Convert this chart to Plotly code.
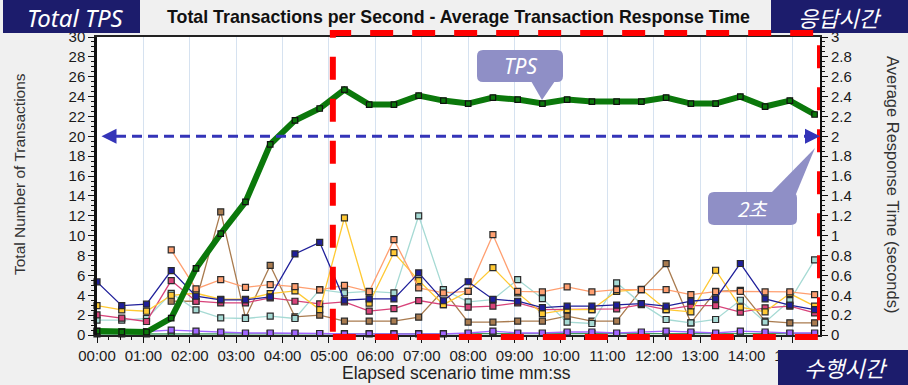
import plotly.graph_objects as go

# ---- data -------------------------------------------------------------
elapsed_s = [0, 32, 64, 96, 128, 160, 192, 224, 256, 288, 320, 352, 384, 416, 448,
             480, 512, 544, 576, 608, 640, 672, 704, 736, 768, 800, 832, 864, 896, 928]

tps = [0.4, 0.3, 0.3, 1.7, 6.7, 10.2, 13.4, 19.2, 21.6, 22.8, 24.7, 23.2, 23.2, 24.1, 23.6,
       23.3, 23.9, 23.7, 23.3, 23.7, 23.5, 23.5, 23.5, 23.9, 23.3, 23.3, 24.0, 23.0, 23.6, 22.2]

rt_navy = [0.535, 0.296, 0.31, 0.648, 0.39, 0.354, 0.354, 0.384, 0.816, 0.933, 0.35, 0.364, 0.364, 0.625, 0.345,
           0.536, 0.36, 0.34, 0.276, 0.29, 0.29, 0.30, 0.316, 0.29, 0.34, 0.364, 0.72, 0.364, 0.30, 0.256]
rt_salmon = [None, None, None, 0.856, 0.464, 0.558, 0.48, 0.508, 0.487, 0.454, 0.50, 0.437, 0.96, 0.474, 0.424,
             0.44, 1.01, 0.44, 0.434, 0.484, 0.434, 0.457, 0.457, 0.457, 0.407, 0.437, 0.44, 0.434, 0.434, 0.407]
rt_yellow = [0.296, 0.253, 0.239, 0.40, 0.42, 0.36, 0.36, 0.417, 0.444, 0.256, 1.18, 0.32, 0.83, 0.548, 0.306,
             0.44, 0.678, 0.424, 0.216, 0.256, 0.256, 0.44, 0.46, 0.256, 0.233, 0.652, 0.28, 0.233, 0.417, 0.29]
rt_pink = [0.203, 0.17, 0.136, 0.548, 0.34, 0.324, 0.324, 0.374, 0.34, 0.313, 0.333, 0.24, 0.266, 0.347, 0.306,
           0.28, 0.29, 0.323, 0.256, 0.256, 0.256, 0.263, 0.306, 0.256, 0.296, 0.296, 0.23, 0.273, 0.29, 0.223]
rt_cyan = [0.149, 0.149, 0.166, 0.42, 0.253, 0.173, 0.166, 0.19, 0.166, 0.457, 0.424, 0.44, 0.424, 1.2, 0.457,
           0.333, 0.357, 0.558, 0.367, 0.129, 0.116, 0.525, 0.316, 0.156, 0.123, 0.156, 0.35, 0.129, 0.347, 0.756]
rt_brown = [None, None, None, 0.34, 0.34, 1.24, 0.173, 0.70, 0.183, 0.20, 0.139, 0.139, 0.139, 0.179, 0.45,
            0.129, 0.129, 0.139, 0.139, 0.189, 0.139, 0.139, 0.457, 0.718, 0.123, 0.44, 0.45, 0.139, 0.123, 0.123]
rt_purple = [0.04, 0.035, 0.035, 0.05, 0.04, 0.03, 0.02, 0.02, 0.02, 0.015, 0.01, 0.01, 0.01, 0.01, 0.01,
             0.02, 0.04, 0.02, 0.02, 0.03, 0.03, 0.02, 0.03, 0.04, 0.03, 0.02, 0.04, 0.03, 0.02, 0.02]
rt_green = [0.01, 0.01, 0.01, 0.015, 0.015, 0.015, 0.015, 0.015, 0.015, 0.015, 0.015, 0.015, 0.015, 0.015, 0.015,
            0.015, 0.015, 0.015, 0.015, 0.015, 0.015, 0.015, 0.015, 0.015, 0.015, 0.015, 0.015, 0.015, 0.015, 0.015]

x_tick_vals = [0, 60, 120, 180, 240, 300, 360, 420, 480, 540, 600, 660, 720, 780, 840, 900]
x_tick_text = ["00:00", "01:00", "02:00", "03:00", "04:00", "05:00", "06:00", "07:00",
               "08:00", "09:00", "10:00", "11:00", "12:00", "13:00", "14:00", "15:00"]
rt_tick_vals = [0, 0.2, 0.4, 0.6, 0.8, 1, 1.2, 1.4, 1.6, 1.8, 2, 2.2, 2.4, 2.6, 2.8, 3]
rt_tick_text = ["0", "0.2", "0.4", "0.6", "0.8", "1", "1.2", "1.4", "1.6", "1.8",
                "2", "2.2", "2.4", "2.6", "2.8", "3"]

x_end = 935          # axis end, seconds
steady_start = 305   # start of the steady-state window, seconds
rt_target = 2.0      # response-time target, seconds

# ---- page geometry (pixels) --------------------------------------------
FW, FH = 908, 385
L, T, W, H = 97, 37, 723, 298


def fx(px):
    return (px - L) / W


def fy(py):
    return (T + H - py) / H


def rrect(x0, y0, x1, y1, r):
    pts = [("M", x0 + r, y0), ("L", x1 - r, y0), ("Q", x1, y0, x1, y0 + r),
           ("L", x1, y1 - r), ("Q", x1, y1, x1 - r, y1), ("L", x0 + r, y1),
           ("Q", x0, y1, x0, y1 - r), ("L", x0, y0 + r), ("Q", x0, y0, x0 + r, y0)]
    out = []
    for p in pts:
        cmd, vals = p[0], p[1:]
        coords = []
        for i in range(0, len(vals), 2):
            coords.append(f"{fx(vals[i]):.5f},{fy(vals[i + 1]):.5f}")
        out.append(cmd + " " + " ".join(coords))
    return " ".join(out) + " Z"


def poly(points):
    s = " L ".join(f"{fx(a):.5f},{fy(b):.5f}" for a, b in points)
    return "M " + s + " Z"


# ---- traces -----------------------------------------------------------
fig = go.Figure()

series = [
    ("rt_green", rt_green, "#3c9a5f"),
    ("rt_purple", rt_purple, "#a066ff"),
    ("rt_brown", rt_brown, "#a97b4f"),
    ("rt_cyan", rt_cyan, "#a6dad4"),
    ("rt_pink", rt_pink, "#d8437a"),
    ("rt_yellow", rt_yellow, "#ffc933"),
    ("rt_salmon", rt_salmon, "#ff9f70"),
    ("rt_navy", rt_navy, "#1f1f9a"),
]
for name, vals, col in series:
    fig.add_trace(go.Scatter(
        x=elapsed_s, y=vals, name=name, mode="lines+markers", yaxis="y",
        line=dict(color=col, width=1.3),
        marker=dict(symbol="square", size=6, color=col, line=dict(color="#2a2a2a", width=1.2)),
        cliponaxis=False, connectgaps=False,
    ))

fig.add_trace(go.Scatter(
    x=elapsed_s, y=tps, name="TPS", mode="lines+markers", yaxis="y2",
    line=dict(color="#0b780b", width=6),
    marker=dict(symbol="square", size=5.5, color="#0b780b", line=dict(color="#111", width=1.2)),
    cliponaxis=False,
))

# ---- shapes -------------------------------------------------------------
shapes = []
navy = "#1c1c6c"
lav = "#8f8fc6"

# header / footer label boxes
shapes.append(dict(type="rect", xref="paper", yref="paper", x0=fx(3), x1=fx(140), y0=fy(33), y1=fy(0),
                   fillcolor=navy, line=dict(width=0), layer="above"))
shapes.append(dict(type="rect", xref="paper", yref="paper", x0=fx(771), x1=fx(FW), y0=fy(33), y1=fy(0),
                   fillcolor=navy, line=dict(width=0), layer="above"))
shapes.append(dict(type="rect", xref="paper", yref="paper", x0=fx(778), x1=fx(FW), y0=fy(FH), y1=fy(350),
                   fillcolor=navy, line=dict(width=0), layer="above"))

# steady-state window
shapes.append(dict(type="rect", xref="x", yref="paper", x0=steady_start, x1=x_end,
                   y0=fy(337), y1=fy(33),
                   line=dict(color="#ff0000", width=6, dash="23px,19px"), layer="above"))

# response-time target with arrowheads
y_tgt = T + H * (1 - rt_target / 3.0)
shapes.append(dict(type="line", xref="paper", yref="y", x0=fx(116), x1=fx(806), y0=rt_target, y1=rt_target,
                   line=dict(color="#3434b8", width=3, dash="10px,6px"), layer="above"))
shapes.append(dict(type="path", xref="paper", yref="paper",
                   path=poly([(101.5, y_tgt), (116.5, y_tgt - 7.5), (116.5, y_tgt + 7.5)]),
                   fillcolor="#3434b8", line=dict(width=0), layer="above"))
shapes.append(dict(type="path", xref="paper", yref="paper",
                   path=poly([(820, y_tgt), (805, y_tgt - 7.5), (805, y_tgt + 7.5)]),
                   fillcolor="#3434b8", line=dict(width=0), layer="above"))

# callouts
shapes.append(dict(type="path", xref="paper", yref="paper", path=rrect(477, 50, 563, 82, 6),
                   fillcolor=lav, line=dict(width=0), layer="above"))
shapes.append(dict(type="path", xref="paper", yref="paper",
                   path=poly([(531, 81), (555, 81), (542, 100)]),
                   fillcolor=lav, line=dict(width=0), layer="above"))
shapes.append(dict(type="path", xref="paper", yref="paper", path=rrect(708, 192, 797, 225, 6),
                   fillcolor=lav, line=dict(width=0), layer="above"))
shapes.append(dict(type="path", xref="paper", yref="paper",
                   path=poly([(770, 194), (796, 194), (815, 148)]),
                   fillcolor=lav, line=dict(width=0), layer="above"))

# ---- annotations ---------------------------------------------------------
ann = []


def text(px, py, s, size, color, family, style="normal", angle=0):
    ann.append(dict(xref="paper", yref="paper", x=fx(px), y=fy(py), text=s, showarrow=False,
                    xanchor="center", yanchor="middle", textangle=angle,
                    font=dict(size=size, color=color, family=family, style=style)))


text(75, 17, "Total TPS", 24, "white", "Noto Sans", "italic")
text(840, 17, "응답시간", 22, "white", "Noto Sans CJK KR", "italic")
text(846, 367, "수행시간", 22, "white", "Noto Sans CJK KR", "italic")
text(520, 66, "TPS", 21, "white", "Noto Sans", "italic")
text(752, 208, "2초", 20, "white", "Noto Sans CJK KR", "italic")
text(20, 174, "Total Number of Transactions", 15.5, "#333", "Liberation Sans", angle=-90)
text(893, 184, "Average Response Time (seconds)", 16.5, "#333", "Liberation Sans", angle=90)
text(456, 373, "Elapsed scenario time mm:ss", 17.5, "#222", "Liberation Sans")

tick_font = dict(family="Liberation Sans", size=15, color="#1a1a1a")

fig.update_layout(
    width=FW, height=FH, autosize=False,
    margin=dict(l=L, r=FW - L - W, t=T, b=FH - T - H, pad=0),
    paper_bgcolor="#f0f0f0", plot_bgcolor="white",
    showlegend=False,
    title=dict(text="<b>Total Transactions per Second - Average Transaction Response Time</b>",
               x=0.5, xref="paper", y=1 - 17 / FH, yref="container", yanchor="middle", xanchor="center",
               font=dict(family="Liberation Sans", size=17.8, color="#111")),
    xaxis=dict(range=[0, x_end], tickmode="array", tickvals=x_tick_vals, ticktext=x_tick_text,
               showgrid=True, gridcolor="#d6e2f0", gridwidth=1, zeroline=False,
               showline=True, linecolor="#222", linewidth=2, mirror=True,
               ticks="outside", ticklen=6, tickcolor="#111", tickfont=tick_font,
               minor=dict(dtick=15, ticks="outside", ticklen=3, tickcolor="#111", showgrid=False)),
    yaxis=dict(range=[0, 3], side="right", tickmode="array", tickvals=rt_tick_vals, ticktext=rt_tick_text,
               showgrid=False, zeroline=False, showline=True, linecolor="#111", linewidth=2,
               ticks="outside", ticklen=6, tickcolor="#111", tickfont=tick_font,
               minor=dict(dtick=0.05, ticks="outside", ticklen=3, tickcolor="#111")),
    yaxis2=dict(range=[0, 30], side="left", overlaying="y", dtick=2, tick0=0,
                showgrid=False, zeroline=False, showline=True, linecolor="#111", linewidth=2.5,
                ticks="outside", ticklen=6, tickcolor="#111", tickfont=tick_font,
                minor=dict(dtick=0.5, ticks="outside", ticklen=3, tickcolor="#111")),
    shapes=shapes,
    annotations=ann,
)

fig.write_html("out.html")
